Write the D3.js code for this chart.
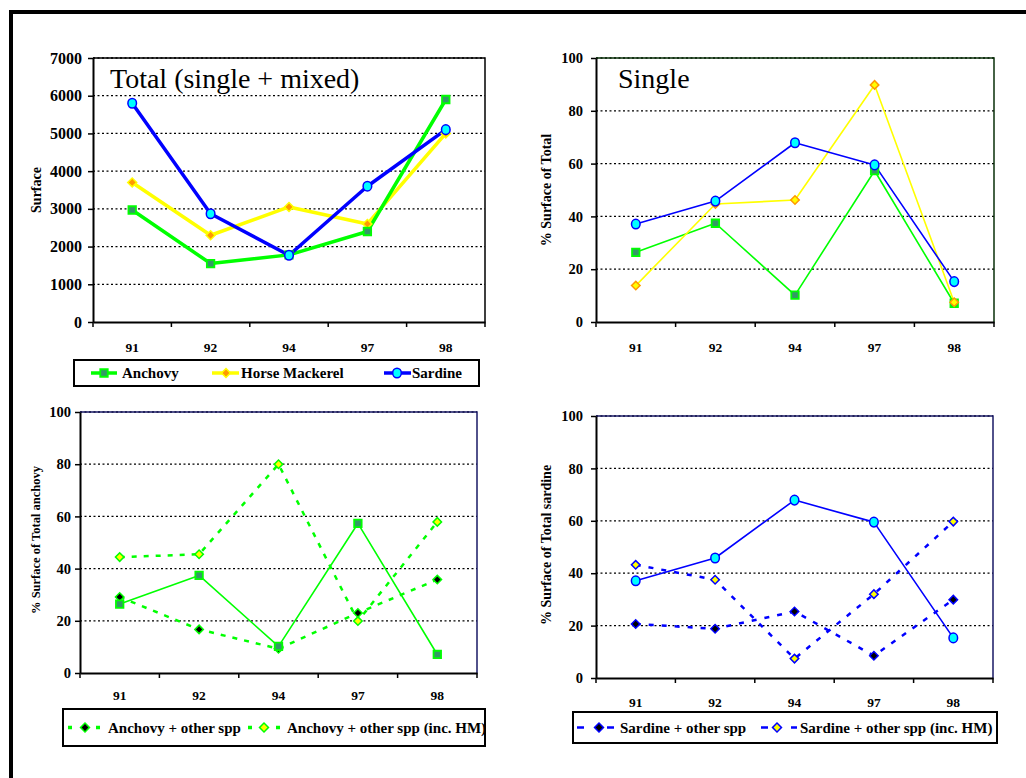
<!DOCTYPE html>
<html>
<head>
<meta charset="utf-8">
<script src="https://cdn.jsdelivr.net/npm/d3@7"></script>
<style>
  html, body { margin: 0; padding: 0; background: #fff; }
  svg { display: block; }
</style>
</head>
<body>
<svg id="chart" width="1026" height="778"></svg>
<script>
// ---------------- DATA ----------------
const years = ["91", "92", "94", "97", "98"];

const totalAnchovy        = [2970, 1550, 1780, 2400, 5900];
const totalHorseMackerel  = [3700, 2300, 3050, 2600, 5000];
const totalSardine        = [5800, 2870, 1770, 3600, 5100];

const singleAnchovy       = [26.4, 37.4, 10.2, 57.3, 7.1];
const singleHorseMackerel = [13.8, 44.7, 46.2, 89.8, 7.5];
const singleSardine       = [37.1, 45.8, 67.9, 59.5, 15.3];

const anchovyOther        = [29.1, 16.7, 9.3, 23.0, 35.8];
const anchovyOtherHM      = [44.4, 45.5, 80.0, 19.9, 57.9];

const sardineOther        = [20.6, 18.8, 25.4, 8.5, 29.9];
const sardineOtherHM      = [43.2, 37.5, 7.4, 32.0, 59.7];

const totalTicks = [0, 1000, 2000, 3000, 4000, 5000, 6000, 7000];
const pctTicks   = [0, 20, 40, 60, 80, 100];

const legendTotal   = ["Anchovy", "Horse Mackerel", "Sardine"];
const legendAnchovy = ["Anchovy + other spp", "Anchovy + other spp (inc. HM)"];
const legendSardine = ["Sardine + other spp", "Sardine + other spp (inc. HM)"];

// ---------------- STYLES ----------------
const FONT = "'Liberation Serif'";
const GREEN = "#00ff00", YELLOW = "#ffff00", BLUE = "#0000ff";
const styles = {
  anchovy: { stroke: GREEN, shape: "square", fill: "#339966", mstroke: GREEN },
  hmTotal: { stroke: YELLOW, shape: "diamond", fill: "#ff9900", mstroke: YELLOW },
  hmSingle: { stroke: YELLOW, shape: "diamond", fill: "#ffff00", mstroke: "#ff9900" },
  sardine: { stroke: BLUE, shape: "circle", fill: "#00ffff", mstroke: BLUE },
  anchOther: { stroke: GREEN, shape: "diamond", fill: "#000000", mstroke: GREEN, dash: "5,7" },
  anchOtherHM: { stroke: GREEN, shape: "diamond", fill: "#ffff00", mstroke: GREEN, dash: "5,7" },
  sarOther: { stroke: BLUE, shape: "diamond", fill: "#000000", mstroke: BLUE, dash: "5,8" },
  sarOtherHM: { stroke: BLUE, shape: "diamond", fill: "#ffff00", mstroke: BLUE, dash: "5,8" }
};

const svg = d3.select("#chart").style("font-family", FONT);

// outer frame
svg.append("rect").attr("x", 11).attr("y", 12).attr("width", 1030).attr("height", 790)
  .attr("fill", "none").attr("stroke", "#000").attr("stroke-width", 4);

function drawMarker(g, shape, cx, cy, st, big) {
  if (shape === "circle") {
    g.append("ellipse").attr("cx", cx).attr("cy", cy).attr("rx", 4.3).attr("ry", 4.8)
      .attr("fill", st.fill).attr("stroke", st.mstroke).attr("stroke-width", 1.5);
  } else if (shape === "square") {
    g.append("path").attr("d", d3.symbol(d3.symbolSquare, 56)())
      .attr("transform", `translate(${cx},${cy})`)
      .attr("fill", st.fill).attr("stroke", st.mstroke).attr("stroke-width", 1.8);
  } else {
    g.append("path").attr("d", d3.symbol(d3.symbolSquare, big ? 40 : 36)())
      .attr("transform", `translate(${cx},${cy}) rotate(45)`)
      .attr("fill", st.fill).attr("stroke", st.mstroke).attr("stroke-width", 1.5);
  }
}

function drawChart(cfg) {
  const { left, top, right, bottom } = cfg;
  const g = svg.append("g");
  const x = d3.scaleBand().domain(years).range([left, right]);
  const y = d3.scaleLinear().domain([0, cfg.ymax]).range([bottom, top]);

  // gridlines (dotted)
  g.append("g").selectAll("line").data(cfg.ticks.filter(t => t > 0)).join("line")
    .attr("x1", left).attr("x2", right)
    .attr("y1", d => y(d)).attr("y2", d => y(d))
    .attr("stroke", "#000").attr("stroke-width", 1.3).attr("stroke-dasharray", "2,2.5");

  // plot frame top/right
  g.append("path")
    .attr("d", `M${left},${top}H${right}V${bottom}`)
    .attr("fill", "none").attr("stroke", cfg.frame).attr("stroke-width", 1.5);

  // y axis
  const ya = d3.axisLeft(y).tickValues(cfg.ticks).tickFormat(d3.format("d"))
    .tickSize(5).tickPadding(cfg.ypad).tickSizeOuter(0);
  const yg = g.append("g").attr("transform", `translate(${left},0)`).call(ya);
  yg.attr("font-family", null);
  yg.select(".domain").attr("stroke", "#000").attr("stroke-width", 2);
  yg.selectAll(".tick line").attr("stroke", "#000").attr("stroke-width", 1.5);
  yg.selectAll(".tick text").attr("font-size", cfg.yfont).attr("font-weight", "bold")
    .attr("fill", "#000").style("font-family", FONT);

  // x axis labels
  const xa = d3.axisBottom(x).tickSize(0).tickPadding(cfg.xpad).tickSizeOuter(0);
  const xg = g.append("g").attr("transform", `translate(0,${bottom})`).call(xa);
  xg.attr("font-family", null);
  xg.select(".domain").attr("stroke", "#000").attr("stroke-width", 2);
  xg.selectAll(".tick text").attr("font-size", 13.5).attr("font-weight", "bold")
    .attr("fill", "#000").style("font-family", FONT);
  // x axis boundary ticks
  const bounds = years.map(c => x(c)).concat([x.range()[1]]);
  g.append("g").selectAll("line").data(bounds).join("line")
    .attr("x1", d => d).attr("x2", d => d).attr("y1", bottom).attr("y2", bottom + 5)
    .attr("stroke", "#000").attr("stroke-width", 1.5);

  // y title
  g.append("text")
    .attr("transform", `translate(${cfg.ytx},${cfg.yty}) rotate(-90)`)
    .attr("text-anchor", "middle").attr("dy", "0.35em")
    .style("font-family", FONT)
    .attr("font-size", cfg.ytfont).attr("font-weight", "bold").text(cfg.ytitle);

  // chart title
  if (cfg.title) {
    g.append("text").attr("x", cfg.titleX).attr("y", cfg.titleY)
      .style("font-family", FONT)
      .attr("font-size", 28).text(cfg.title);
  }

  // series
  const line = d3.line().x((d, i) => x(years[i]) + x.bandwidth() / 2).y(d => y(d));
  cfg.series.forEach(s => {
    g.append("path").datum(s.values).attr("d", line)
      .attr("fill", "none").attr("stroke", s.st.stroke).attr("stroke-width", s.width)
      .attr("stroke-dasharray", s.st.dash || null).attr("stroke-linejoin", "round");
  });
  cfg.series.forEach(s => {
    s.values.forEach((v, i) => {
      drawMarker(g, s.st.shape, x(years[i]) + x.bandwidth() / 2, y(v), s.st, cfg.big);
    });
  });
}

// Top-left: Total
drawChart({
  left: 93, top: 58, right: 485, bottom: 322, ymax: 7000, ticks: totalTicks,
  ypad: 6, yfont: 16, xpad: 20, frame: "#000",
  ytitle: "Surface", ytx: 36, yty: 190, ytfont: 14,
  title: "Total (single + mixed)", titleX: 110, titleY: 88, big: true,
  series: [
    { values: totalHorseMackerel, st: styles.hmTotal, width: 3.5 },
    { values: totalAnchovy, st: styles.anchovy, width: 3.5 },
    { values: totalSardine, st: styles.sardine, width: 3.5 }
  ]
});

// Top-right: Single
drawChart({
  left: 596, top: 58, right: 994, bottom: 322, ymax: 100, ticks: pctTicks,
  ypad: 8, yfont: 14.5, xpad: 20, frame: "#0a300a",
  ytitle: "% Surface of Total", ytx: 546, yty: 190, ytfont: 14,
  title: "Single", titleX: 618, titleY: 88,
  series: [
    { values: singleAnchovy, st: styles.anchovy, width: 1.6 },
    { values: singleHorseMackerel, st: styles.hmSingle, width: 1.6 },
    { values: singleSardine, st: styles.sardine, width: 1.6 }
  ]
});

// Bottom-left: anchovy mixed
drawChart({
  left: 80, top: 412, right: 477, bottom: 673, ymax: 100, ticks: pctTicks,
  ypad: 4, yfont: 14.5, xpad: 17, frame: "#1a1a66",
  ytitle: "% Surface of Total anchovy", ytx: 36, yty: 540, ytfont: 12.5,
  series: [
    { values: anchovyOther, st: styles.anchOther, width: 2.5 },
    { values: anchovyOtherHM, st: styles.anchOtherHM, width: 2.5 },
    { values: singleAnchovy, st: styles.anchovy, width: 1.6 }
  ]
});

// Bottom-right: sardine mixed
drawChart({
  left: 596, top: 416, right: 993, bottom: 678, ymax: 100, ticks: pctTicks,
  ypad: 8, yfont: 14.5, xpad: 19, frame: "#1a1a66",
  ytitle: "% Surface of Total sardine", ytx: 546, yty: 545, ytfont: 14,
  series: [
    { values: sardineOther, st: styles.sarOther, width: 2.5 },
    { values: sardineOtherHM, st: styles.sarOtherHM, width: 2.5 },
    { values: singleSardine, st: styles.sardine, width: 1.6 }
  ]
});

// ---------------- LEGENDS ----------------
function drawLegend(box, items) {
  const g = svg.append("g");
  g.append("rect").attr("x", box.x).attr("y", box.y).attr("width", box.w).attr("height", box.h)
    .attr("fill", "#fff").attr("stroke", "#000").attr("stroke-width", 2);
  const cy = box.y + box.h / 2;
  items.forEach(it => {
    g.append("line").attr("x1", it.l1).attr("x2", it.l2).attr("y1", cy).attr("y2", cy)
      .attr("stroke", it.st.stroke).attr("stroke-width", it.width)
      .attr("stroke-dasharray", it.dash || null);
    drawMarker(g, it.st.shape, it.m, cy, it.st, true);
    g.append("text").attr("x", it.tx).attr("y", cy).attr("dy", "0.35em")
      .style("font-family", FONT)
      .attr("font-size", 15).attr("font-weight", "bold")
      .text(it.label);
  });
}

drawLegend({ x: 74, y: 360, w: 405, h: 26 }, [
  { label: legendTotal[0], st: styles.anchovy, l1: 91, l2: 117, m: 104, tx: 122, width: 3.5 },
  { label: legendTotal[1], st: styles.hmTotal, l1: 212, l2: 239, m: 226, tx: 241, width: 3.5 },
  { label: legendTotal[2], st: styles.sardine, l1: 384, l2: 411, m: 397, tx: 412, width: 3.5 }
]);

drawLegend({ x: 63, y: 709, w: 422, h: 37 }, [
  { label: legendAnchovy[0], st: styles.anchOther, l1: 68, l2: 101, m: 85, tx: 108, width: 3.5, dash: "4,10" },
  { label: legendAnchovy[1], st: styles.anchOtherHM, l1: 248, l2: 281, m: 264, tx: 287, width: 3.5, dash: "4,10" }
]);

drawLegend({ x: 573, y: 712, w: 424, h: 31 }, [
  { label: legendSardine[0], st: styles.sarOther, l1: 577, l2: 614, m: 599, tx: 620, width: 2.5, dash: "7,23" },
  { label: legendSardine[1], st: styles.sarOtherHM, l1: 761, l2: 797, m: 777, tx: 800, width: 2.5, dash: "7,23" }
]);
</script>
</body>
</html>
